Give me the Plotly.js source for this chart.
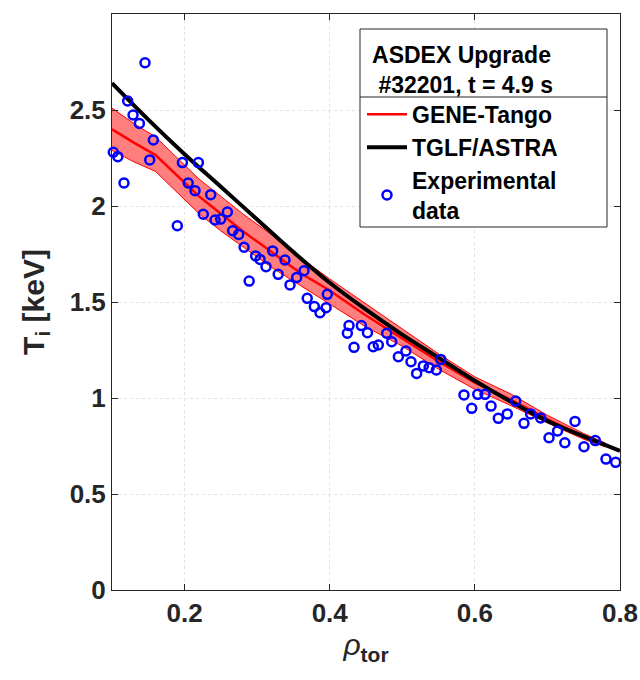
<!DOCTYPE html>
<html><head><meta charset="utf-8">
<script src="https://cdn.plot.ly/plotly-3.0.1.min.js"></script>
<style>body{margin:0;background:#fff}#chart{width:640px;height:680px}</style>
</head><body><div id="chart"></div>
<script>
// Experimental data (rho_tor, Ti [keV])
const rhoExp = [0.1455,0.1216,0.129,0.1377,0.157,0.1018,0.108,0.152,0.1165,0.197,0.219,0.205,0.2144,0.236,0.2258,0.242,0.2498,0.259,0.2663,0.2746,0.19,0.282,0.3214,0.3384,0.298,0.304,0.3122,0.329,0.289,0.3453,0.3545,0.3646,0.369,0.3788,0.3866,0.395,0.3967,0.4266,0.4243,0.4436,0.452,0.4335,0.46,0.467,0.4785,0.4854,0.4946,0.505,0.512,0.5198,0.529,0.537,0.547,0.553,0.585,0.604,0.614,0.5957,0.6223,0.6323,0.6447,0.6563,0.6677,0.6769,0.6907,0.7022,0.714,0.724,0.738,0.7504,0.766,0.7807,0.794];
const tiExp = [2.746,2.547,2.474,2.43,2.344,2.28,2.257,2.24,2.12,2.226,2.226,2.12,2.08,2.059,1.957,1.927,1.932,1.969,1.871,1.852,1.897,1.785,1.766,1.719,1.74,1.722,1.684,1.644,1.609,1.589,1.628,1.663,1.519,1.476,1.444,1.47,1.54,1.377,1.337,1.377,1.34,1.264,1.267,1.276,1.337,1.293,1.215,1.245,1.189,1.128,1.167,1.158,1.146,1.201,1.016,1.019,1.019,0.946,0.958,0.894,0.917,0.984,0.868,0.917,0.896,0.793,0.828,0.767,0.878,0.746,0.778,0.682,0.665];

// GENE-Tango profile with uncertainty band
const rhoGene = [0.10,0.13,0.16,0.19,0.22,0.25,0.28,0.32,0.36,0.40,0.45,0.50,0.55,0.60,0.65,0.70,0.75,0.78];
const tiGene = [2.40,2.33,2.265,2.16,2.05,1.96,1.87,1.76,1.65,1.56,1.43,1.31,1.19,1.08,0.99,0.89,0.80,0.755];
const tiGeneUpper = [2.51,2.43,2.36,2.25,2.14,2.05,1.96,1.85,1.73,1.62,1.49,1.36,1.23,1.11,1.02,0.91,0.815,0.765];
const tiGeneLower = [2.29,2.23,2.18,2.07,1.96,1.87,1.79,1.68,1.585,1.49,1.37,1.27,1.15,1.045,0.96,0.87,0.785,0.745];

// TGLF/ASTRA profile
const rhoTglf = [0.10,0.15,0.20,0.25,0.30,0.35,0.40,0.45,0.50,0.55,0.60,0.65,0.70,0.75,0.80];
const tiTglf = [2.64,2.45,2.27,2.10,1.93,1.76,1.60,1.46,1.33,1.21,1.09,0.98,0.88,0.80,0.725];

const xTicks = [0.2,0.4,0.6,0.8];
const yTicks = [0,0.5,1,1.5,2,2.5,3];

const FONT = 'Liberation Sans, Arial, sans-serif';
const axisCol = '#262626';

const traces = [
  {x: rhoGene, y: tiGeneLower, type:'scatter', mode:'lines', line:{color:'#ff0000', width:1}, showlegend:false, hoverinfo:'skip'},
  {x: rhoGene, y: tiGeneUpper, type:'scatter', mode:'lines', line:{color:'#ff0000', width:1}, fill:'tonexty', fillcolor:'rgba(255,0,0,0.5)', showlegend:false, hoverinfo:'skip'},
  {x: rhoGene, y: tiGene, type:'scatter', mode:'lines', name:'GENE-Tango', line:{color:'#ff0000', width:2.5}},
  {x: rhoTglf, y: tiTglf, type:'scatter', mode:'lines', name:'TGLF/ASTRA', line:{color:'#000000', width:4, shape:'spline'}},
  {x: rhoExp, y: tiExp, type:'scatter', mode:'markers', name:'Experimental<br>data', cliponaxis:false,
   marker:{symbol:'circle-open', size:9, color:'#0000ff', line:{width:2.5, color:'#0000ff'}}}
];

const L = 112, R = 20, T = 14, B = 90;
const pw = 640 - L - R, ph = 680 - T - B;
const px = v => (v - L) / pw;
const py = v => 1 - (v - T) / ph;

const layout = {
  width: 640, height: 680,
  margin: {l: L, r: R, t: T, b: B},
  paper_bgcolor: '#fff', plot_bgcolor: '#fff',
  font: {family: FONT, size: 22, color: axisCol, weight: 'bold'},
  xaxis: {
    range: [0.1, 0.8], tickvals: xTicks, ticktext: xTicks.map(v => v.toFixed(1)),
    ticks: 'inside', ticklen: 6, tickcolor: axisCol, mirror: 'ticks',
    showline: true, linecolor: axisCol, linewidth: 1,
    showgrid: true, gridcolor: '#e2e2e2', griddash: 'dot', gridwidth: 1,
    zeroline: false, tickfont: {size: 26, weight: 'bold', color: '#262626'},
    title: {text: '<i><span style="font-weight:normal">ρ</span></i><sub>tor</sub>', font: {size: 30, weight: 'bold', color: '#262626'}, standoff: 6}
  },
  yaxis: {
    range: [0, 3], tickvals: yTicks, ticktext: yTicks.map(v => String(v)),
    ticks: 'inside', ticklen: 6, tickcolor: axisCol, mirror: 'ticks',
    showline: true, linecolor: axisCol, linewidth: 1,
    showgrid: true, gridcolor: '#e2e2e2', griddash: 'dot', gridwidth: 1,
    zeroline: false, tickfont: {size: 26, weight: 'bold', color: '#262626'},
    title: {text: 'T<sub>i</sub> [keV]', font: {size: 30, weight: 'bold', color: '#262626'}, standoff: 16}
  },
  legend: {
    x: px(362), y: py(33), xanchor: 'left', yanchor: 'top',
    bgcolor: 'rgba(0,0,0,0)', borderwidth: 0, traceorder: 'normal',
    font: {family: FONT, size: 23, weight: 'bold', color: '#000'},
    title: {text: 'ASDEX Upgrade<br> #32201, t = 4.9 s', side: 'top center', font: {family: FONT, size: 23, weight: 'bold', color: '#000'}},
    itemwidth: 40, tracegroupgap: 0
  },
  shapes: [
    {type: 'rect', xref: 'paper', yref: 'paper', x0: px(360), x1: px(607), y0: py(227), y1: py(29),
     line: {color: '#262626', width: 1}, fillcolor: '#ffffff', layer: 'above'},
    {type: 'line', xref: 'paper', yref: 'paper', x0: px(360), x1: px(607), y0: py(97), y1: py(97),
     line: {color: '#262626', width: 1}, layer: 'above'}
  ],
  showlegend: true
};

Plotly.newPlot('chart', traces, layout, {displayModeBar: false, staticPlot: true});
</script>
</body></html>
